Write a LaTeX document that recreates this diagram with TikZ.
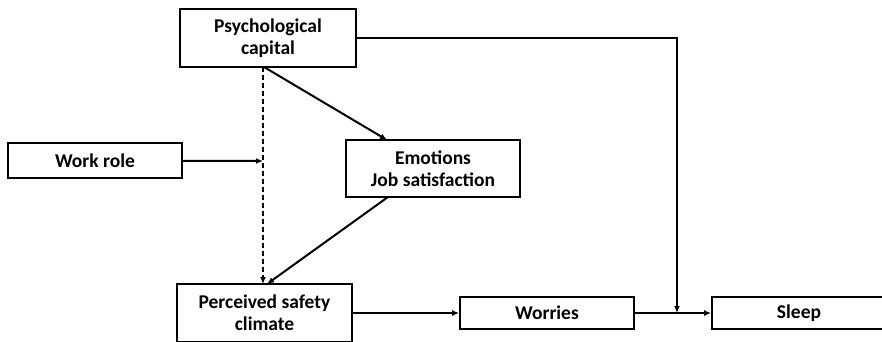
\documentclass[tikz,border=0pt]{standalone}
\usepackage{fontspec}
\setmainfont{Carlito}
\usetikzlibrary{arrows.meta}

\begin{document}
\begin{tikzpicture}[x=1pt, y=-1pt, every node/.style={draw=black, line width=1.8pt, align=center, font=\bfseries\fontsize{19.5}{22}\selectfont, inner sep=0pt}, link/.style={draw=black, line width=2pt, -{Latex[length=7pt, width=6pt]}}]
			\useasboundingbox (0,0) rectangle (882,342);
			\node[minimum width=176, minimum height=58] (psy) at (268,38){Psychological\\capital};
			\node[minimum width=174, minimum height=35] (work) at (95,160.5){Work role};
			\node[minimum width=174, minimum height=57] (emo) at (433,168.5){Emotions\\Job satisfaction};
			\node[minimum width=175, minimum height=58] (psc) at (264.5,313){Perceived safety\\climate};
			\node[minimum width=174, minimum height=32] (wor) at (547,313){Worries};
			\node[minimum width=200, minimum height=32] (sle) at (812,313){\hspace*{-26pt}Sleep};
			
			\coordinate (d1) at (263,67);
			\coordinate (d2) at (263,284);
			\coordinate (m) at (263,161);
			\coordinate (e1) at (264,67);
			\coordinate (e2) at (387,140);
			\coordinate (f1) at (388,197);
			\coordinate (f2) at (267,284);
			\coordinate (k) at (677,313);
			
			\path[link, dash pattern=on 5pt off 3pt] (d1) -- (d2);
			\path[link] (work) -- (m);
			\path[link] (e1) -- (e2);
			\path[link] (f1) -- (f2);
			\path[link] (psc) -- (wor);
			\path[link] (wor) -- (sle);
			\path[link] (psy.east) -| (k);
			\end{tikzpicture}
\end{document}
